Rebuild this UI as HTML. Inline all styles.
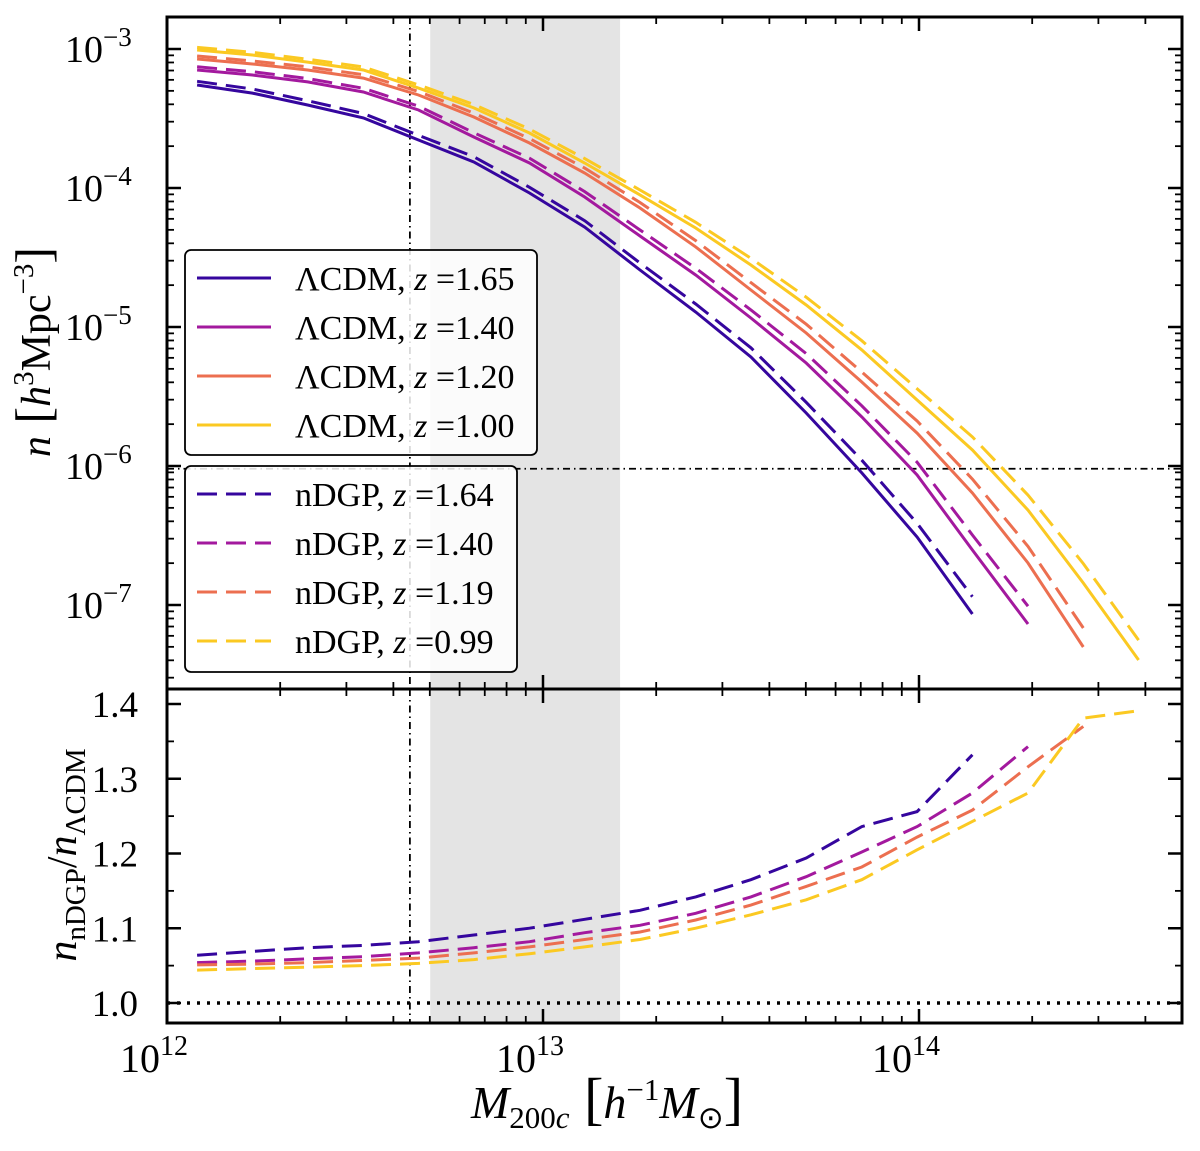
<!DOCTYPE html>
<html><head><meta charset="utf-8">
<style>
html,body{margin:0;padding:0;background:#fff;}
svg text{font-family:"Liberation Serif",serif;fill:#000;}
</style></head>
<body>
<svg id="chart" width="1200" height="1146" viewBox="0 0 1200 1146" xmlns="http://www.w3.org/2000/svg"></svg>
<script>
// ---- data ----
const logMass = [12.080,12.227,12.374,12.522,12.669,12.816,12.964,13.111,13.258,13.406,13.553,13.700,13.848,13.995,14.142,14.290,14.437,14.584];
const seriesLabels = ["1.65","1.40","1.20","1.00"];
const nDGPLabels = ["1.64","1.40","1.19","0.99"];
const logN_z165 = [-3.259,-3.317,-3.403,-3.496,-3.655,-3.813,-4.036,-4.281,-4.590,-4.892,-5.216,-5.619,-6.050,-6.511,-7.065];
const logN_z140 = [-3.151,-3.187,-3.237,-3.309,-3.439,-3.633,-3.820,-4.065,-4.345,-4.626,-4.935,-5.259,-5.647,-6.065,-6.604,-7.137];
const logN_z120 = [-3.072,-3.108,-3.151,-3.209,-3.331,-3.489,-3.676,-3.892,-4.144,-4.424,-4.734,-5.043,-5.396,-5.763,-6.194,-6.698,-7.302];
const logN_z100 = [-3.007,-3.043,-3.094,-3.151,-3.281,-3.424,-3.604,-3.820,-4.050,-4.288,-4.554,-4.842,-5.165,-5.525,-5.885,-6.317,-6.842,-7.396];
const ratio_z164 = [1.064,1.069,1.074,1.077,1.082,1.091,1.100,1.112,1.124,1.142,1.165,1.194,1.236,1.256,1.332];
const ratio_z140 = [1.054,1.056,1.059,1.062,1.067,1.074,1.082,1.094,1.104,1.120,1.142,1.169,1.202,1.236,1.281,1.343];
const ratio_z119 = [1.051,1.052,1.054,1.057,1.060,1.067,1.075,1.085,1.095,1.111,1.131,1.156,1.182,1.222,1.258,1.316,1.370];
const ratio_z099 = [1.044,1.046,1.048,1.050,1.053,1.058,1.066,1.075,1.085,1.100,1.118,1.138,1.165,1.205,1.243,1.281,1.381,1.391];
const xTickLabels = ["12","13","14"];
const yTopTickLabels = ["-3","-4","-5","-6","-7"];
const yBotTickLabels = ["1.0","1.1","1.2","1.3","1.4"];
const shadeRange = [12.70,13.205];
const massCut = 12.646;
const densityCut = -6.02;

const colors = ["#35069e","#a3199e","#ec6f50","#fbc922"];
const logNs = [logN_z165,logN_z140,logN_z120,logN_z100];
const ratios = [ratio_z164,ratio_z140,ratio_z119,ratio_z099];

// ---- geometry ----
const L=167,R=1182,T=17,MID=689,B=1023,DEC=376;
const xMin=12, xMax=12+(R-L)/DEC;
const X = lm => L + (lm-xMin)*DEC;
const yTop0=-3, Yt = ln => 49 + (yTop0-ln)*139;
const Yb = r => 1003 - (r-1)*747.5;

const svg=document.getElementById('chart');
const NS="http://www.w3.org/2000/svg";
function mk(tag,attrs,parent){const e=document.createElementNS(NS,tag);for(const k in attrs)e.setAttribute(k,attrs[k]);(parent||svg).appendChild(e);return e;}

const defs=mk('defs',{});
const c1=mk('clipPath',{id:'clipTop'},defs); mk('rect',{x:L,y:T,width:R-L,height:MID-T},c1);
const c2=mk('clipPath',{id:'clipBot'},defs); mk('rect',{x:L,y:MID,width:R-L,height:B-MID},c2);

const gTop=mk('g',{'clip-path':'url(#clipTop)'});


const gBot=mk('g',{'clip-path':'url(#clipBot)'});



[[gTop,T,MID],[gBot,MID,B]].forEach(([g,y0,y1],i)=>{
  const r=mk('rect',{x:X(shadeRange[0]),y:y0,width:X(shadeRange[1])-X(shadeRange[0]),height:y1-y0,fill:'#e4e4e4'},g);
  
  
  const v=mk('line',{x1:X(massCut),x2:X(massCut),y1:y0,y2:y1,stroke:'#000','stroke-width':1.8,'stroke-dasharray':'7,4,1.5,4'},g);
  
  
});
const hl=mk('line',{x1:L,x2:R,y1:Yt(densityCut),y2:Yt(densityCut),stroke:'#000','stroke-width':1.8,'stroke-dasharray':'7,4,1.5,4'},gTop);


const one=mk('line',{x1:L,x2:R,y1:Yb(1),y2:Yb(1),stroke:'#000','stroke-width':3.5,'stroke-dasharray':'3,7'},gBot);



for(let s=0;s<4;s++){
  const ln=logNs[s];
  const ps=ln.map((v,i)=>X(logMass[i]).toFixed(1)+','+Yt(v).toFixed(1)).join(' ');
  const p=mk('polyline',{points:ps,fill:'none',stroke:colors[s],'stroke-width':3},gTop);
  
  
  const rt=ratios[s];
  const pd=rt.map((r,i)=>X(logMass[i]).toFixed(1)+','+Yt(ln[i]+Math.log10(r)).toFixed(1)).join(' ');
  const d=mk('polyline',{points:pd,fill:'none',stroke:colors[s],'stroke-width':3,'stroke-dasharray':'20,9'},gTop);
  
  
  const pr=rt.map((r,i)=>X(logMass[i]).toFixed(1)+','+Yb(r).toFixed(1)).join(' ');
  const q=mk('polyline',{points:pr,fill:'none',stroke:colors[s],'stroke-width':3,'stroke-dasharray':'20,9'},gBot);
  
  
}

const tk=mk('g',{stroke:'#000'});


function tick(x1,y1,x2,y2,w){mk('line',{x1,y1,x2,y2,'stroke-width':w},tk);}
for(let d=12;d<=14;d++){for(let m=1;m<=9;m++){const lm=d+Math.log10(m);if(lm>xMax)continue;const x=X(lm);const len=m==1?14:7,w=m==1?2.5:1.8;
  [[T,1],[MID,-1],[MID,1],[B,-1]].forEach(([y,dir])=>tick(x,y,x,y+dir*len,w));}}
for(let d=-8;d<=-2;d++){for(let m=1;m<=9;m++){const ln=d+Math.log10(m);const y=Yt(ln);if(y<T||y>MID)continue;const len=m==1?14:7,w=m==1?2.5:1.8;
  tick(L,y,L+len,y,w);tick(R,y,R-len,y,w);}}
for(let i=0;i<=9;i++){const r=0.95+i*0.05;const y=Yb(r);if(y<MID||y>B)continue;const maj=Math.abs(r*10-Math.round(r*10))<1e-6;const len=maj?14:7,w=maj?2.5:1.8;
  tick(L,y,L+len,y,w);tick(R,y,R-len,y,w);}

const f1=mk('rect',{x:L,y:T,width:R-L,height:MID-T,fill:'none',stroke:'#000','stroke-width':3});

const f2=mk('rect',{x:L,y:MID,width:R-L,height:B-MID,fill:'none',stroke:'#000','stroke-width':3});


function txt(x,y,html,attrs,name){const t=mk('text',Object.assign({x,y},attrs||{}));t.innerHTML=html;return t;}
xTickLabels.forEach(e=>{const x=X(+e);txt(x-13,1072,'10<tspan dy="-17" font-size="28">'+e+'</tspan>',{'font-size':40,'text-anchor':'middle'},'x-tick-label');});
yTopTickLabels.forEach(e=>{const y=Yt(+e);txt(65,y+13,'10<tspan dy="-16" font-size="27">\u2212'+e.slice(1)+'</tspan>',{'font-size':38},'y-tick-label-top');});
yBotTickLabels.forEach(e=>{const y=Yb(+e);txt(138,y+13,e,{'font-size':37,'text-anchor':'end'},'y-tick-label-bottom');});

txt(607,1118,'<tspan font-style="italic">M</tspan><tspan font-size="31" dy="10">200<tspan font-style="italic">c</tspan></tspan><tspan dy="-10" font-size="58"> [</tspan><tspan font-style="italic">h</tspan><tspan font-size="31" dy="-18">\u22121</tspan><tspan font-style="italic" dy="18">M</tspan><tspan font-size="31" dy="10">\u2299</tspan><tspan dy="-10" font-size="58">]</tspan>',{'font-size':46,'text-anchor':'middle'},'x-axis-title');
txt(0,0,'<tspan font-style="italic">n</tspan><tspan font-size="50"> [</tspan><tspan font-style="italic">h</tspan><tspan font-size="29" dy="-17">3</tspan><tspan dy="17">Mpc</tspan><tspan font-size="29" dy="-17">\u22123</tspan><tspan dy="17" font-size="50">]</tspan>',{'font-size':42,'text-anchor':'middle',transform:'translate(50,352) rotate(-90)'},'y-axis-title-top');
txt(0,0,'<tspan font-style="italic">n</tspan><tspan font-size="29" dy="9">nDGP</tspan><tspan dy="-9">/</tspan><tspan font-style="italic">n</tspan><tspan font-size="29" dy="9">\u039BCDM</tspan>',{'font-size':42,'text-anchor':'middle',transform:'translate(76,855) rotate(-90)'},'y-axis-title-bottom');

function legend(x,y,w,h,labels,prefix,dashed,name){
  const g=mk('g',{});
  mk('rect',{x,y,width:w,height:h,rx:6,fill:'#fff','fill-opacity':0.85,stroke:'#000','stroke-width':1.8},g);
  labels.forEach((lab,i)=>{const cy=y+28+i*49;
    const l=mk('line',{x1:x+12,x2:x+86,y1:cy,y2:cy,stroke:colors[i],'stroke-width':3,'stroke-dasharray':dashed?'20,9':'none'},g);
    
    const t=mk('text',{x:x+110,y:cy+12,'font-size':34},g);
    t.innerHTML=prefix+', <tspan font-style="italic">z</tspan> ='+lab;
    
  });
}
legend(185,250,352,205,seriesLabels,'\u039BCDM',false,'legend-lcdm');
legend(185,466,332,206,nDGPLabels,'nDGP',true,'legend-ndgp');
</script>
</body></html>
